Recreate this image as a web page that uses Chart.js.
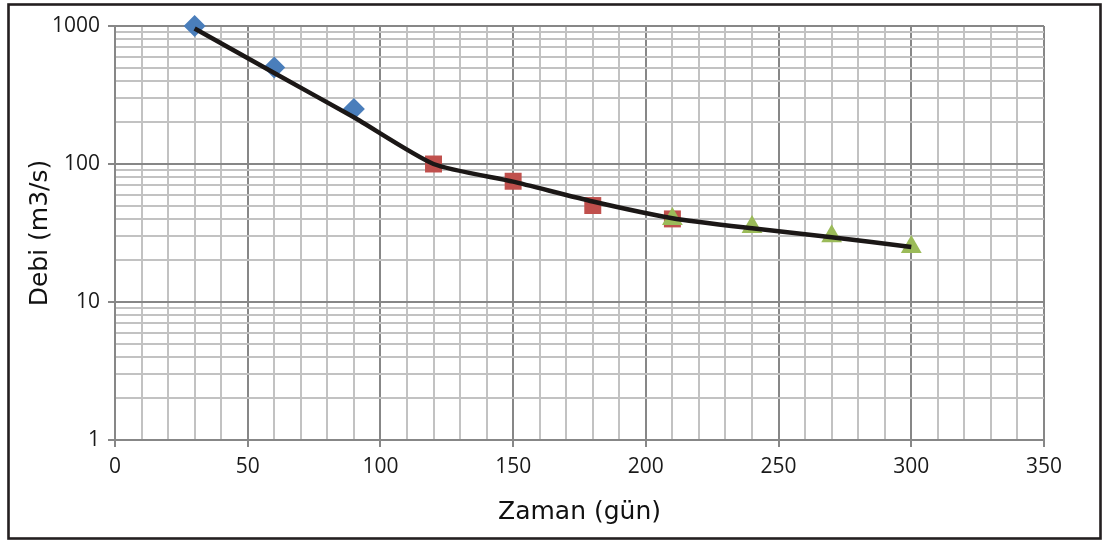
<!DOCTYPE html>
<html>
<head>
<meta charset="utf-8">
<script src="https://cdn.jsdelivr.net/npm/chart.js@4"></script>
<style>
  html, body { margin: 0; padding: 0; background: #fff; }
  #wrap { width: 1104px; height: 543px; }
</style>
</head>
<body>
<div id="wrap"><canvas id="debiChart" width="1104" height="543"></canvas></div>
<script>
// Recession points, split into three stages
const stage1Days = [30, 60, 90];
const stage1Flow = [1000, 500, 250];
const stage2Days = [120, 150, 180, 210];
const stage2Flow = [100, 75, 50, 40];
const stage3Days = [210, 240, 270, 300];
const stage3Flow = [40, 35, 30, 25];

// Fitted recession curve
const curveDays = [30, 60, 90, 120, 150, 180, 210, 240, 270, 300];
const curveFlow = [960, 456, 218, 100, 74.5, 53.5, 40.5, 34.2, 29.5, 25];

// Axis ticks
const xTicks = [0, 10, 20, 30, 40, 50, 60, 70, 80, 90, 100, 110, 120, 130, 140, 150, 160, 170,
  180, 190, 200, 210, 220, 230, 240, 250, 260, 270, 280, 290, 300, 310, 320, 330, 340, 350];
const xLabels = [0, 50, 100, 150, 200, 250, 300, 350];
const yDecades = [1, 10, 100, 1000];

const yTicks = [];
yDecades.forEach((d, i) => {
  if (i === yDecades.length - 1) { yTicks.push(d); return; }
  for (let k = 1; k <= 9; k++) yTicks.push(d * k);
});

const toPoints = (xs, ys) => xs.map((x, i) => ({ x: x, y: ys[i] }));

const MAJOR = '#878787';
const MINOR = '#c2c2c2';

// Outer frame around the whole figure
const framePlugin = {
  id: 'frame',
  afterDraw(chart) {
    const ctx = chart.ctx;
    ctx.save();
    ctx.strokeStyle = '#231f20';
    ctx.lineWidth = 2.6;
    ctx.strokeRect(8.5, 4.5, 1092, 534);
    ctx.restore();
  }
};

new Chart(document.getElementById('debiChart').getContext('2d'), {
  type: 'scatter',
  data: {
    datasets: [
      {
        type: 'line',
        data: toPoints(curveDays, curveFlow),
        borderColor: '#1b1716',
        borderWidth: 4.5,
        pointRadius: 0,
        tension: 0.2,
        fill: false,
        clip: false,
        order: 0
      },
      {
        data: toPoints(stage1Days, stage1Flow),
        backgroundColor: '#4a7ebb',
        borderWidth: 0,
        pointStyle: 'rectRot',
        pointRadius: 11,
        clip: false,
        order: 3
      },
      {
        data: toPoints(stage2Days, stage2Flow),
        backgroundColor: '#c0504d',
        borderWidth: 0,
        pointStyle: 'rect',
        pointRadius: 12,
        clip: false,
        order: 2
      },
      {
        data: toPoints(stage3Days, stage3Flow),
        backgroundColor: '#9bbb59',
        borderWidth: 0,
        pointStyle: 'triangle',
        pointRadius: 12,
        clip: false,
        order: 1
      }
    ]
  },
  options: {
    responsive: false,
    animation: false,
    layout: { padding: { top: 26, right: 60, left: 0, bottom: 0 } },
    plugins: {
      legend: { display: false },
      tooltip: { enabled: false }
    },
    scales: {
      x: {
        type: 'linear',
        min: 0,
        max: 350,
        afterBuildTicks: scale => { scale.ticks = xTicks.map(v => ({ value: v })); },
        afterFit: scale => { scale.height = 103; },
        ticks: {
          autoSkip: false,
          maxRotation: 0,
          padding: 7,
          color: '#1a1a1a',
          font: { family: 'Open Sans', size: 21 },
          callback: v => (xLabels.includes(v) ? String(v) : '')
        },
        grid: {
          lineWidth: 2,
          tickLength: 7,
          color: c => (c.tick && c.tick.value % 50 === 0 ? MAJOR : MINOR),
          tickColor: c => (c.tick && c.tick.value % 50 === 0 ? MAJOR : 'rgba(0,0,0,0)')
        },
        border: { color: MAJOR, width: 2 },
        title: {
          display: true,
          text: 'Zaman (gün)',
          color: '#111',
          font: { family: 'DejaVu Sans', size: 25 },
          padding: { top: 4, bottom: 16 }
        }
      },
      y: {
        type: 'logarithmic',
        min: 1,
        max: 1000,
        afterBuildTicks: scale => { scale.ticks = yTicks.map(v => ({ value: v })); },
        afterFit: scale => { scale.width = 115; },
        ticks: {
          autoSkip: false,
          padding: 8,
          color: '#1a1a1a',
          font: { family: 'Open Sans', size: 21 },
          callback: v => (yDecades.includes(v) ? String(v) : '')
        },
        grid: {
          lineWidth: 2,
          tickLength: 7,
          color: c => (c.tick && yDecades.includes(c.tick.value) ? MAJOR : MINOR),
          tickColor: c => (c.tick && yDecades.includes(c.tick.value) ? MAJOR : 'rgba(0,0,0,0)')
        },
        border: { color: MAJOR, width: 2 },
        title: {
          display: true,
          text: 'Debi (m3/s)',
          color: '#111',
          font: { family: 'DejaVu Sans', size: 25 },
          padding: { top: 25, bottom: 0 }
        }
      }
    }
  },
  plugins: [framePlugin]
});
</script>
</body>
</html>
